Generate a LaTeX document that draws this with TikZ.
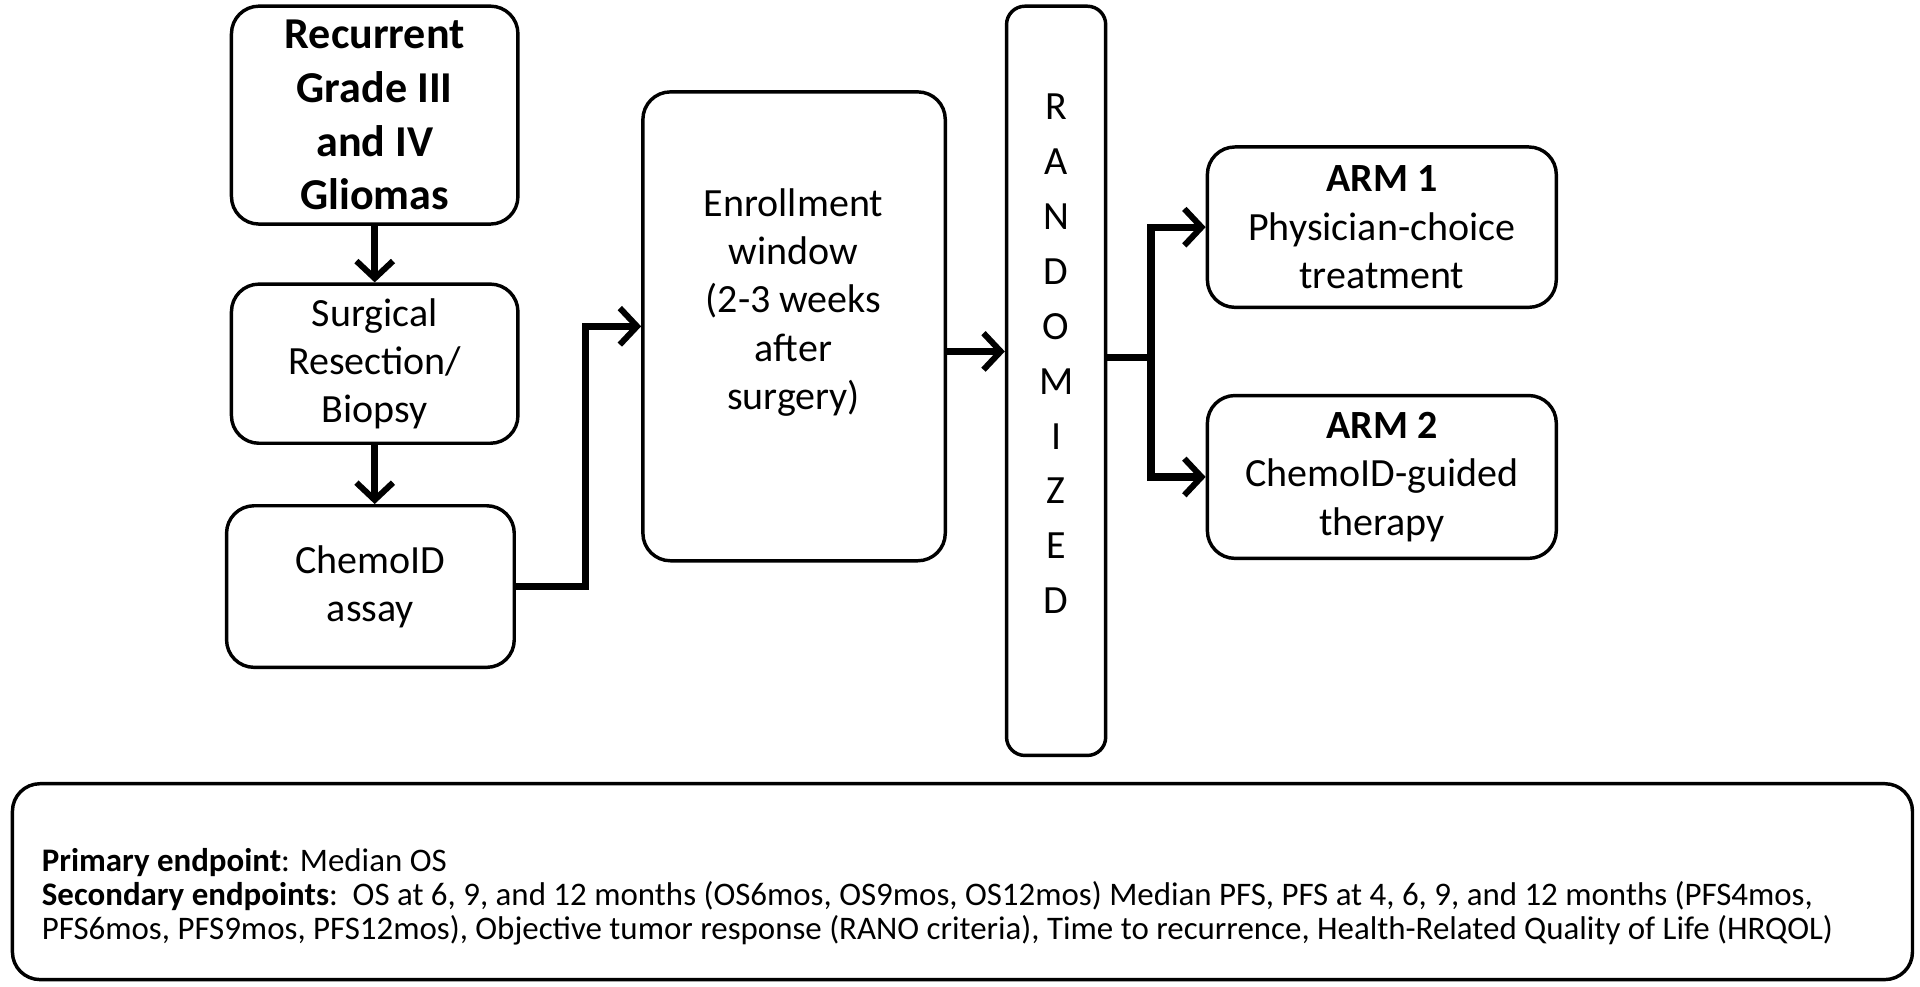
\documentclass[tikz,border=0pt]{standalone}
\usepackage{fontspec}
\setmainfont{Carlito}
\usetikzlibrary{arrows.meta,positioning}
\begin{document}
\begin{tikzpicture}[
            x=0.02cm, y=-0.02cm,
            block/.style={rectangle, draw, rounded corners=0.45cm, line width=1.6pt, align=center,
              font=\fontsize{18.6}{22.4}\selectfont},
            arr/.style={line width=3.3pt, -{Straight Barb[length=8pt,width=17pt,line width=2.8pt]}},
            line/.style={line width=3.3pt}
        ]
        \useasboundingbox (0,0) rectangle (1568,806);

        % left column
        \node[block, minimum width=4.68cm, minimum height=3.56cm, font=\bfseries\fontsize{20.5}{25}\selectfont] (recurrent) at (306,94) {Recurrent\\Grade III\\and IV\\Gliomas};
        \node[block, minimum width=4.68cm, minimum height=2.6cm] (surgery) at (306,297) {Surgical\\Resection/\\Biopsy};
        \node[block, minimum width=4.7cm, minimum height=2.64cm] (chemoid) at (302.5,479) {ChemoID\\assay};

        % enrollment and randomization
        \node[block, minimum width=4.94cm, minimum height=7.66cm] (enroll) at (648.5,266.5) {};
        \node[align=center, font=\fontsize{18.6}{22.4}\selectfont] (enrolltext) at (648,247) {Enrollment\\window\\(2-3 weeks\\after\\surgery)};
        \node[block, rounded corners=0.3cm, minimum width=1.62cm, minimum height=12.24cm] (random) at (862.5,311) {};
        \node[align=center, font=\fontsize{18.6}{25.5}\selectfont] (randomtext) at (862.5,289) {R\\A\\N\\D\\O\\M\\I\\Z\\E\\D};

        % arms
        \node[block, minimum width=5.7cm, minimum height=2.62cm] (arm1) at (1128.5,185.5) {\textbf{ARM 1}\\Physician-choice\\treatment};
        \node[block, minimum width=5.7cm, minimum height=2.66cm] (arm2) at (1128.5,389.5) {\textbf{ARM 2}\\ChemoID-guided\\therapy};

        % endpoints
        \node[block, minimum width=31.04cm, minimum height=3.2cm] (endpoints) at (786,720) {};
        \node[anchor=west, align=left, font=\fontsize{15.3}{15.8}\selectfont] (endtext) at (28,732) {\textbf{Primary endpoint}: Median OS\\
\textbf{Secondary endpoints}:\ \ OS at 6, 9, and 12 months (OS6mos, OS9mos, OS12mos) Median PFS, PFS at 4, 6, 9, and 12 months (PFS4mos,\\
PFS6mos, PFS9mos, PFS12mos), Objective tumor response (RANO criteria), Time to recurrence, Health-Related Quality of Life (HRQOL)};

        \draw[arr] (recurrent.south) -- (surgery.north);
        \draw[arr] (surgery.south) -- (surgery.south |- chemoid.north);
        \draw[arr] (chemoid.east) -| (478,266.5) -- (enroll.west);
        \draw[arr] (enroll.east |- 0,287) -- (random.west |- 0,287);

        \coordinate (split) at (940,292);
        \draw[line] (random.east |- split) -- (split);
        \draw[arr] (split) |- (arm1.west);
        \draw[arr] (split) |- (arm2.west);

    \end{tikzpicture}
\end{document}
